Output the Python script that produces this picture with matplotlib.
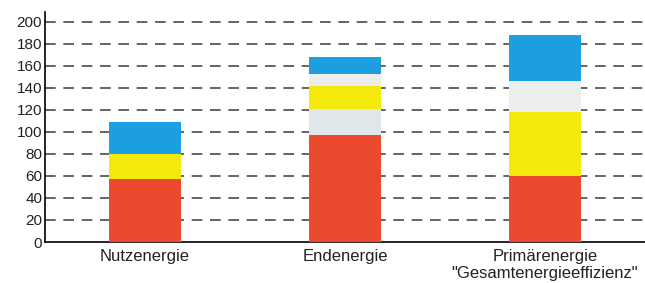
import matplotlib
matplotlib.use("Agg")
import matplotlib.pyplot as plt
import numpy as np

plt.rcParams['font.family'] = ['Liberation Sans', 'DejaVu Sans']

categories = ["Nutzenergie", "Endenergie", "Primärenergie\n\"Gesamtenergieeffizienz\""]
red = [57, 97, 60]
light1 = [0, 24, 0]
yellow = [23, 21, 58]
light2 = [0, 11, 28]
blue = [29, 15, 42]
yticks = [0, 20, 40, 60, 80, 100, 120, 140, 160, 180, 200]

fig = plt.figure(figsize=(6.45, 2.83), dpi=100)
ax = fig.add_axes([45/645, 41/283, 600/645, 230/283])

x = np.arange(len(categories))
w = 0.36
segs = [(red, '#eb4a2f'), (light1, '#dfe7eb'), (yellow, '#f3ea0c'),
        (light2, '#eceeee'), (blue, '#1c9fe0')]
bottom = np.zeros(len(categories))
for vals, col in segs:
    ax.bar(x, vals, w, bottom=bottom, color=col, zorder=3)
    bottom += np.array(vals)

for t in yticks[1:]:
    ax.axhline(t, color='#3a3a3a', lw=1.1, ls=(0, (7, 5)), zorder=1)

ax.set_xlim(-0.5, 2.5)
ax.set_ylim(0, 209)
ax.set_yticks(yticks)
ax.set_xticks(x)
ax.set_xticklabels(categories, fontsize=12, linespacing=1.15)
ax.tick_params(axis='y', length=0, labelsize=11, pad=2, labelcolor='#222222')
ax.tick_params(axis='x', length=0, pad=5, labelcolor='#222222')
for s in ['top', 'right']:
    ax.spines[s].set_visible(False)
ax.spines['left'].set_linewidth(1.2)
ax.spines['bottom'].set_linewidth(1.2)

fig.savefig("out.png", dpi=100)
